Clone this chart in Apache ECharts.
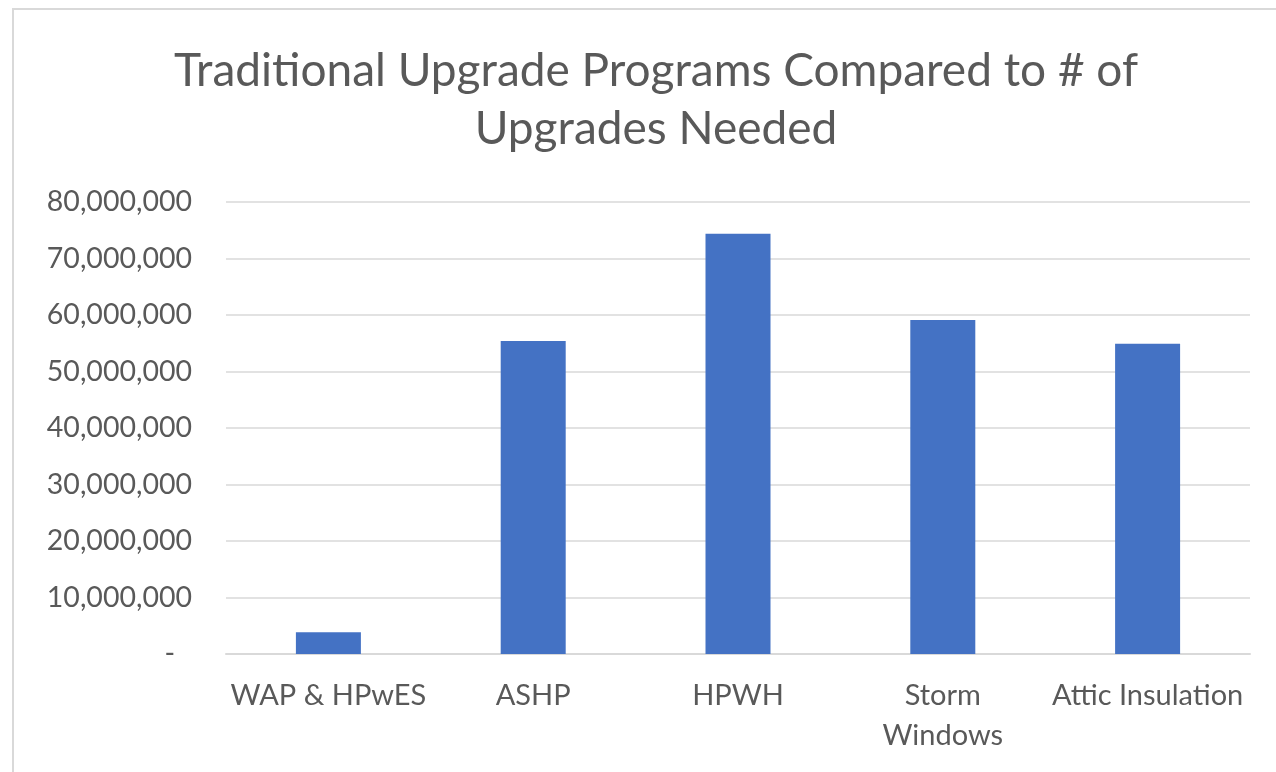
<!DOCTYPE html>
<html>
<head>
<meta charset="utf-8">
<script src="https://cdn.jsdelivr.net/npm/echarts@6/dist/echarts.min.js"></script>
<style>
  html, body { margin: 0; padding: 0; background: #fff; }
  #chart { width: 1276px; height: 772px; }
</style>
</head>
<body>
<div id="chart"></div>
<script>
  // data
  const categories = ['WAP & HPwES', 'ASHP', 'HPWH', 'Storm\nWindows', 'Attic Insulation'];
  const upgrades = [3850000, 55400000, 74400000, 59100000, 54900000];
  const yMax = 80000000;
  const yStep = 10000000;

  const textColor = '#595959';
  const font = 'Lato';

  const chart = echarts.init(document.getElementById('chart'));
  chart.setOption({
    backgroundColor: '#fff',
    animation: false,
    // outer chart border (right/bottom edges fall outside the picture)
    graphic: [{
      type: 'rect',
      shape: { x: 13, y: 9, width: 1320, height: 820 },
      style: { fill: 'none', stroke: '#d9d9d9', lineWidth: 2 },
      silent: true
    }],
    title: {
      text: 'Traditional Upgrade Programs Compared to # of\nUpgrades Needed',
      left: 651,
      top: 37,
      textAlign: 'center',
      textStyle: {
        color: textColor,
        fontFamily: font,
        fontWeight: 'normal',
        fontSize: 46,
        lineHeight: 58
      }
    },
    grid: {
      left: 226,
      right: 26,
      top: 202,
      bottom: 118
    },
    xAxis: {
      type: 'category',
      data: categories,
      axisTick: { show: false },
      axisLine: { lineStyle: { color: '#d9d9d9', width: 2 } },
      axisLabel: {
        color: textColor,
        fontFamily: font,
        fontSize: 29,
        lineHeight: 40,
        margin: 22,
        interval: 0
      }
    },
    yAxis: {
      type: 'value',
      min: 0,
      max: yMax,
      interval: yStep,
      axisLine: { show: false },
      axisTick: { show: false },
      splitLine: { lineStyle: { color: '#d9d9d9', width: 1.5 } },
      axisLabel: {
        color: textColor,
        fontFamily: font,
        fontSize: 28.5,
        margin: 34,
        formatter: function (v) {
          return v === 0 ? '{d|-}' : v.toLocaleString('en-US');
        },
        rich: {
          d: { color: textColor, fontFamily: font, fontSize: 28.5, padding: [0, 17, 0, 0] }
        }
      }
    },
    series: [{
      type: 'bar',
      data: upgrades,
      barWidth: 65,
      itemStyle: { color: '#4472C4' }
    }]
  });
</script>
</body>
</html>
